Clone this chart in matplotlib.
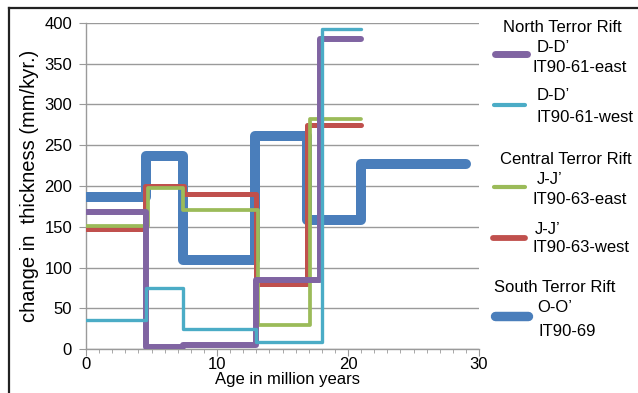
import matplotlib.pyplot as plt
from matplotlib.lines import Line2D
from matplotlib.ticker import MultipleLocator

plt.rcParams['font.family'] = ['Liberation Sans', 'DejaVu Sans']
plt.rcParams['font.size'] = 12

W, H = 638, 393

# step boundaries (Ma) and thickening rates (mm/kyr) for each profile
south_age = [0, 4.6, 7.4, 12.9, 16.9, 21.0, 29.0]
south_rate = [187, 237, 109, 261, 158, 227]

north_east_age = [0, 4.6, 7.4, 13.0, 17.9, 21.0]
north_east_rate = [168, 2, 5, 85, 380]

north_west_age = [0, 4.6, 7.4, 13.0, 18.0, 21.0]
north_west_rate = [35, 75, 24, 8, 393]

central_east_age = [0, 4.7, 7.4, 13.1, 17.1, 21.0]
central_east_rate = [151, 197, 170, 29, 282]

central_west_age = [0, 4.5, 7.5, 13.0, 16.9, 21.0]
central_west_rate = [147, 200, 190, 80, 275]

c_purple = '#8064A2'
c_cyan = '#4BACC6'
c_green = '#9BBB59'
c_red = '#C0504D'
c_blue = '#4A7EBB'


def px(x, y):
    return x / W, 1 - y / H


fig = plt.figure(figsize=(W / 100, H / 100), dpi=100)
ax = fig.add_axes([86 / W, 1 - 349 / H, 393 / W, 326 / H])

# drawing order: thick blue underneath, thin cyan on top
plots = [
    (south_age, south_rate, c_blue, 7.2),
    (central_west_age, central_west_rate, c_red, 3.6),
    (central_east_age, central_east_rate, c_green, 2.7),
    (north_east_age, north_east_rate, c_purple, 4.3),
    (north_west_age, north_west_rate, c_cyan, 2.4),
]
for i, (age, rate, col, lw) in enumerate(plots):
    ax.plot(age, rate + [rate[-1]], drawstyle='steps-post', color=col, lw=lw,
            solid_capstyle='round', solid_joinstyle='round', zorder=3 + i)

ax.set_xlim(0, 30)
ax.set_ylim(0, 400)
ax.xaxis.set_major_locator(MultipleLocator(10))
ax.xaxis.set_minor_locator(MultipleLocator(1))
ax.yaxis.set_major_locator(MultipleLocator(50))
ax.grid(axis='y', color='#9a9a9a', lw=1.0)
ax.set_axisbelow(True)
for s in ['top', 'right']:
    ax.spines[s].set_visible(False)
for s in ['left', 'bottom']:
    ax.spines[s].set_color('#9a9a9a')
    ax.spines[s].set_linewidth(1.0)
ax.tick_params(axis='x', which='major', length=5, color='#9a9a9a', pad=1, labelsize=12)
ax.tick_params(axis='x', which='minor', length=3, color='#9a9a9a')
ax.tick_params(axis='y', length=5, color='#9a9a9a', pad=5, labelsize=12)

ax.set_ylabel('change in  thickness (mm/kyr.)', fontsize=14.5)
ax.yaxis.set_label_coords(-0.12, 0.5)
ax.set_xlabel('Age in million years', fontsize=12)
ax.xaxis.set_label_coords(0.513, -0.072)

# legend with group headings
def handle(x0, x1, y, col, lw):
    (a, b), (c, _) = px(x0, y), px(x1, y)
    fig.add_artist(Line2D([a, c], [b, b], color=col, lw=lw,
                          solid_capstyle='round', transform=fig.transFigure))


def txt(x, y, s, ha='left'):
    fig.text(*px(x, y), s, ha=ha, va='center', fontsize=12)


txt(562, 28, 'North Terror Rift', ha='center')
handle(495, 527, 54, c_purple, 5)
txt(537, 47, 'D-D\u2019')
txt(533, 67, 'IT90-61-east')
handle(494, 525, 105, c_cyan, 3)
txt(537, 96, 'D-D\u2019')
txt(536, 118, 'IT90-61-west')

txt(566, 160, 'Central Terror Rift', ha='center')
handle(494, 525, 187, c_green, 3)
txt(537, 179, 'J-J\u2019')
txt(532, 199, 'IT90-63-east')
handle(493, 525, 238, c_red, 4.2)
txt(535, 229, 'J-J\u2019')
txt(532, 248, 'IT90-63-west')

txt(555, 287, 'South Terror Rift', ha='center')
handle(495, 528, 316, c_blue, 6.8)
txt(537, 308, 'O-O\u2019')
txt(538, 331, 'IT90-69')

# outer frame (top and left edges)
fig.add_artist(Line2D([9 / W, 1], [1 - 8 / H, 1 - 8 / H], color='#222222', lw=1.6,
                      transform=fig.transFigure))
fig.add_artist(Line2D([9 / W, 9 / W], [0, 1 - 8 / H], color='#222222', lw=1.6,
                      transform=fig.transFigure))

fig.savefig('out.png', dpi=100)
